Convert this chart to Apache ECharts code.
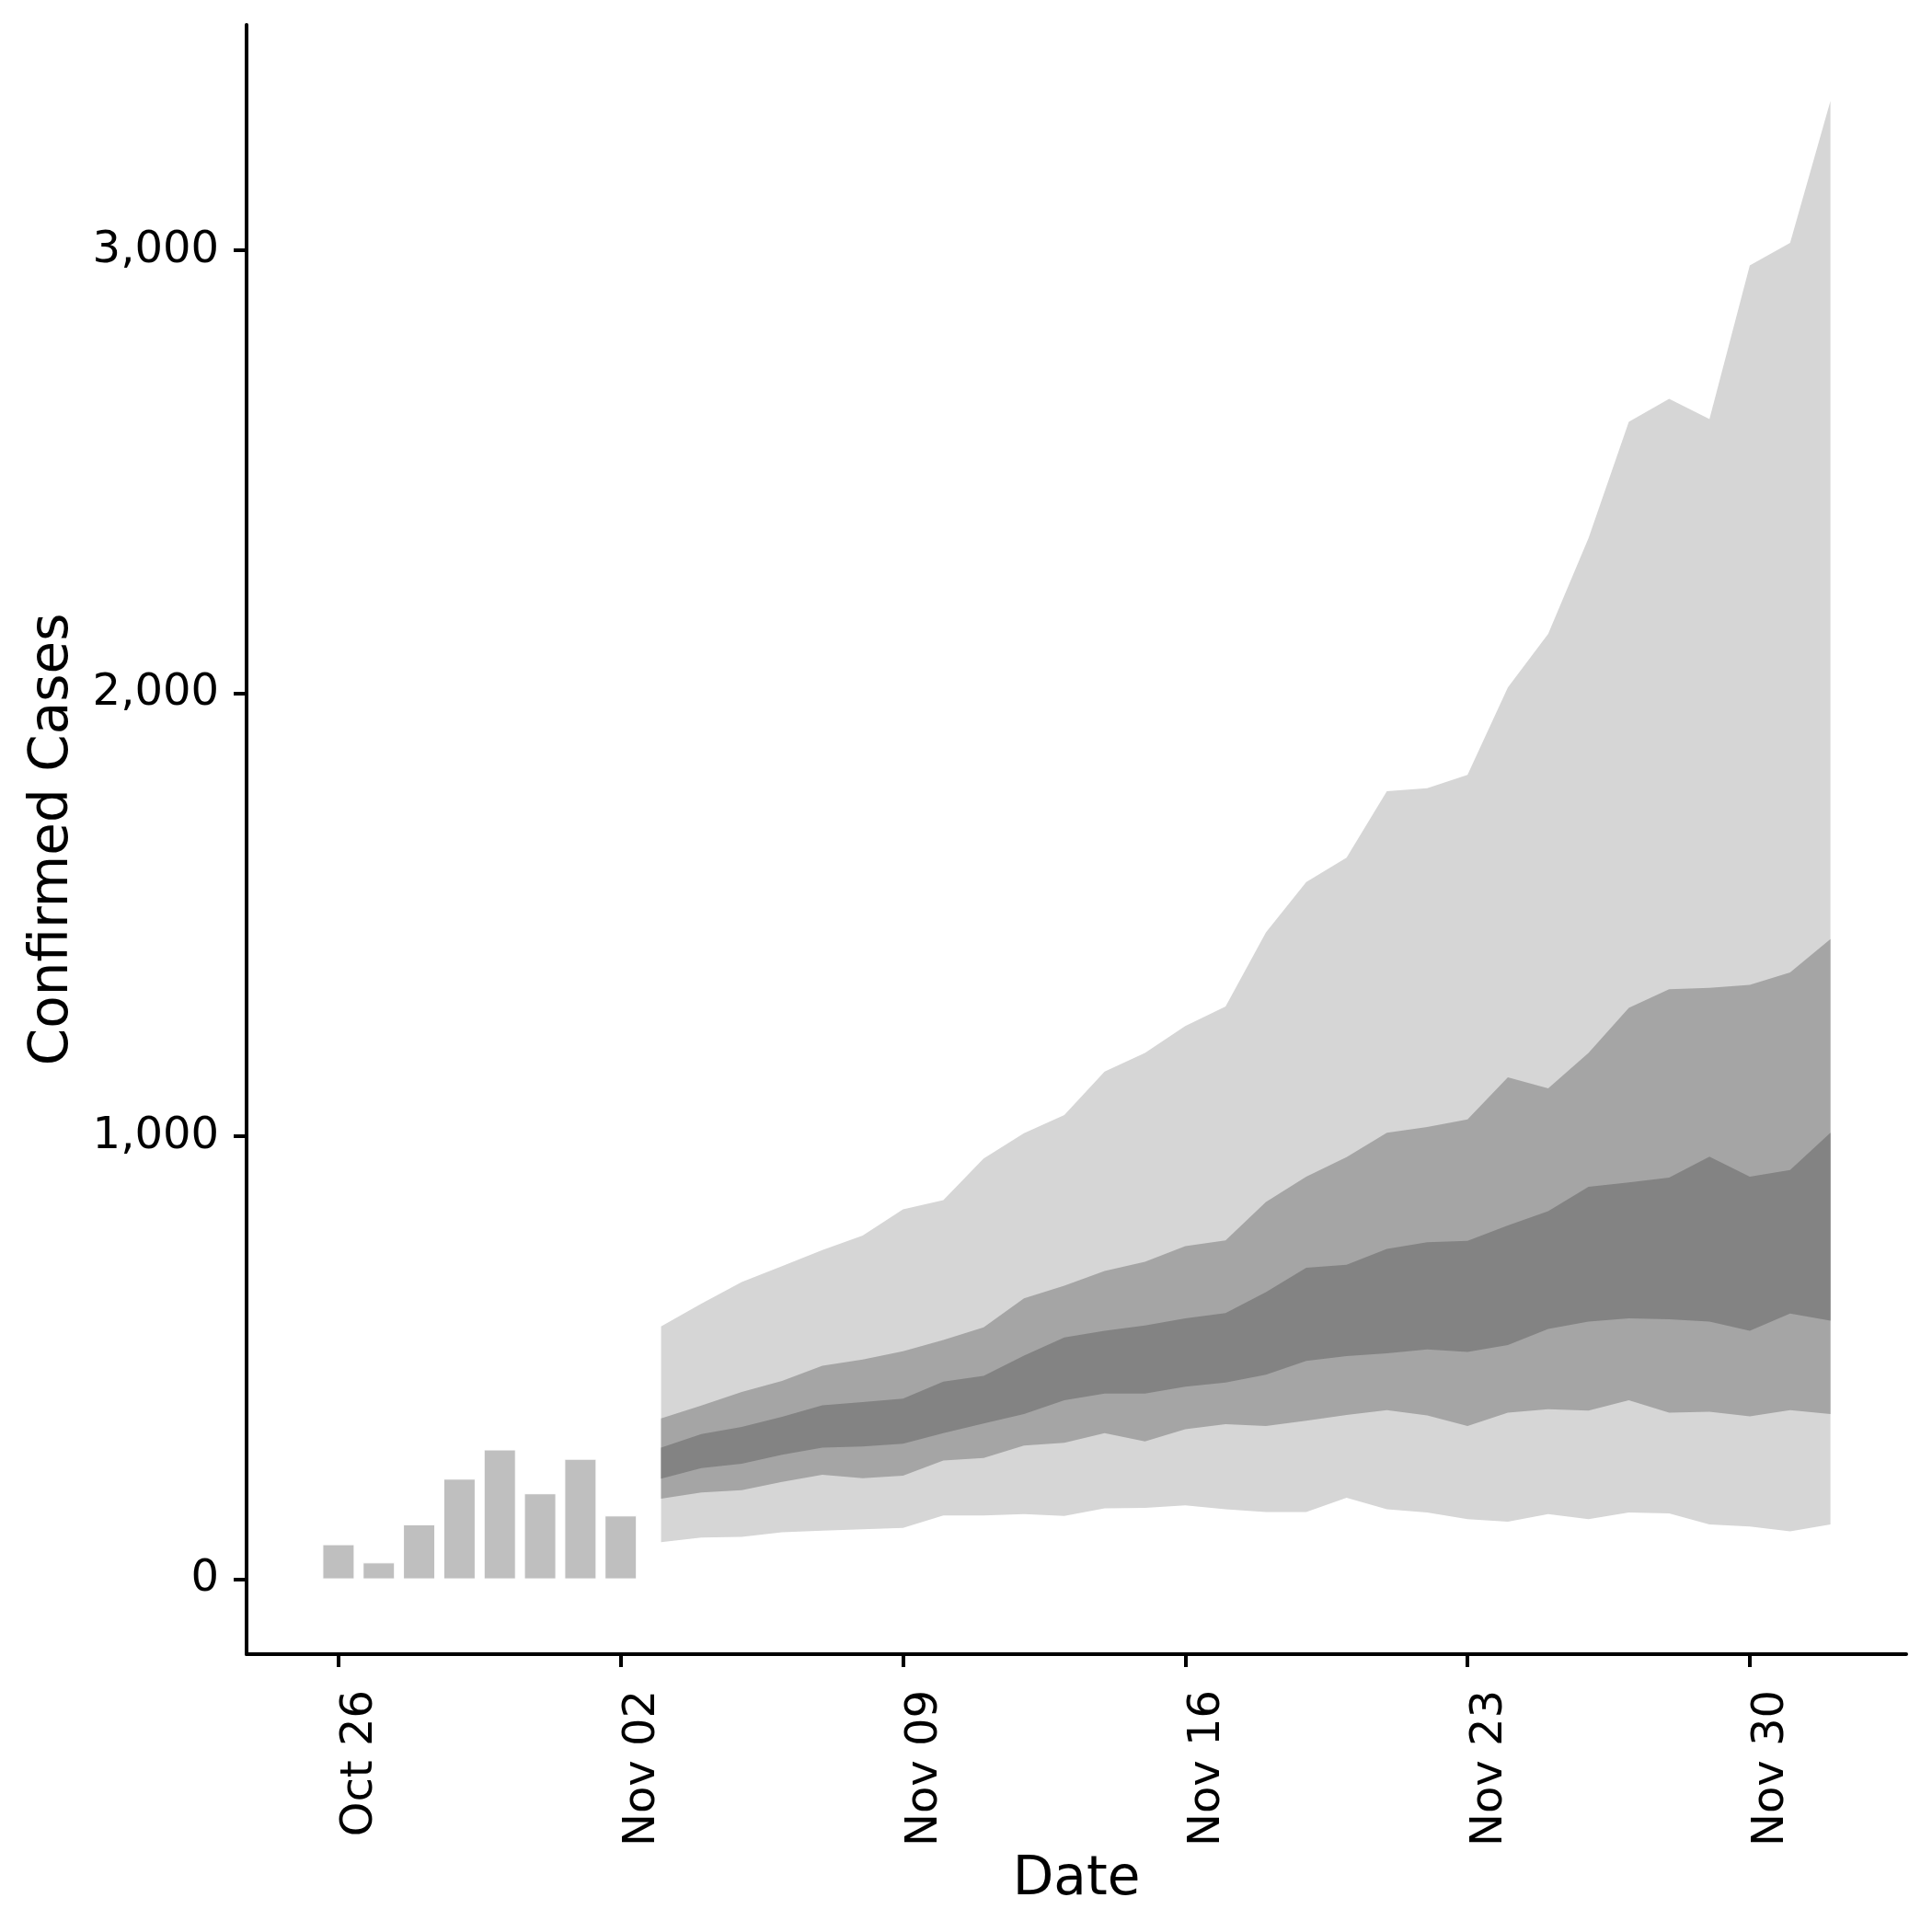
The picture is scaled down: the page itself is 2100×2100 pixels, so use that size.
<!DOCTYPE html>
<html>
<head>
<meta charset="utf-8">
<script src="https://cdn.jsdelivr.net/npm/echarts@6/dist/echarts.min.js"></script>
<style>
  html, body { margin: 0; padding: 0; background: #fff; }
  #chart { width: 2100px; height: 2100px; }
</style>
</head>
<body>
<div id="chart"></div>
<script>
// days counted from Oct 26
const tickDays = [0, 7, 14, 21, 28, 35]
const tickLabels = ['Oct 26', 'Nov 02', 'Nov 09', 'Nov 16', 'Nov 23', 'Nov 30']

// observed cases, Oct 26 .. Nov 02
const barDays = [0, 1, 2, 3, 4, 5, 6, 7]
const barValues = [79, 38, 124, 227, 293, 194, 272, 144]

// forecast days, Nov 03 .. Dec 02
const bandDays = [8, 9, 10, 11, 12, 13, 14, 15, 16, 17, 18, 19, 20, 21, 22,
  23, 24, 25, 26, 27, 28, 29, 30, 31, 32, 33, 34, 35, 36, 37]

// outer band (light)
const outerLow = [84, 94, 96, 106, 110, 113, 116, 144, 144, 147, 143, 160, 161, 167, 158,
  152, 152, 184, 158, 151, 136, 130, 147, 136, 151, 149, 124, 119, 108, 124]
const outerHigh = [571, 622, 671, 707, 743, 776, 835, 856, 950, 1007, 1048, 1146, 1188, 1249, 1293,
  1460, 1574, 1629, 1779, 1786, 1816, 2013, 2134, 2350, 2613, 2665, 2619, 2966, 3017, 3337]

// middle band (medium)
const midLow = [182, 196, 201, 220, 236, 228, 234, 268, 274, 302, 308, 330, 311, 339, 350,
  346, 358, 371, 382, 370, 346, 376, 384, 381, 404, 376, 378, 368, 382, 373]
const midHigh = [363, 392, 423, 448, 482, 496, 515, 540, 569, 634, 663, 696, 717, 752, 765,
  852, 909, 953, 1008, 1021, 1038, 1133, 1108, 1188, 1290, 1332, 1335, 1342, 1370, 1445]

// inner band (dark)
const innerLow = [227, 251, 261, 281, 297, 300, 306, 330, 352, 373, 404, 419, 419, 435, 444,
  462, 493, 504, 510, 519, 513, 529, 565, 582, 589, 587, 582, 561, 600, 584]
const innerHigh = [297, 328, 344, 367, 393, 400, 408, 446, 459, 505, 546, 561, 573, 589, 601,
  648, 703, 710, 746, 761, 764, 799, 831, 886, 896, 907, 954, 909, 924, 1008]

const yTicks = [0, 1000, 2000, 3000]

const font = 'DejaVu Sans'

//band as one polygon: along high, back along low
const makeBand = (name, low, high, color) => {
  return {
    name: name,
    type: 'custom',
    silent: true,
    data: bandDays.map((d, i) => [d, low[i], high[i]]),
    encode: { x: 0, y: [1, 2] },
    renderItem: (params, api) => {
      if (params.dataIndex !== 0) {
        return null
      }
      let points = []
      bandDays.forEach((d, i) => {
        points.push(api.coord([d, high[i]]))
      })
      for (let i = bandDays.length - 1; i >= 0; i--) {
        points.push(api.coord([bandDays[i], low[i]]))
      }
      return {
        type: 'polygon',
        shape: { points: points },
        style: { fill: color, stroke: null },
      }
    },
  }
}

const chart = echarts.init(document.getElementById('chart'), null, { renderer: 'canvas' })

chart.setOption({
  animation: false,
  backgroundColor: '#ffffff',
  grid: {
    left: 268,
    right: 28,
    top: 27,
    bottom: 302,
  },
  xAxis: {
    type: 'value',
    min: -2.28,
    max: 38.88,
    name: 'Date',
    nameLocation: 'middle',
    nameGap: 217,
    nameTextStyle: { fontFamily: font, fontSize: 58, color: '#000' },
    axisLine: { onZero: false, lineStyle: { color: '#000', width: 4 } },
    axisTick: {
      customValues: tickDays,
      length: 14,
      lineStyle: { color: '#000', width: 4 },
    },
    axisLabel: {
      customValues: tickDays,
      rotate: 90,
      margin: 39,
      verticalAlign: 'top',
      fontFamily: font,
      fontSize: 48,
      color: '#000',
      formatter: (v) => tickLabels[tickDays.indexOf(v)] || '',
    },
    splitLine: { show: false },
  },
  yAxis: {
    type: 'value',
    min: -169,
    max: 3509,
    name: 'Confirmed Cases',
    nameLocation: 'middle',
    nameGap: 181,
    nameTextStyle: { fontFamily: font, fontSize: 58, color: '#000' },
    axisLine: { show: true, onZero: false, lineStyle: { color: '#000', width: 4 } },
    axisTick: {
      show: true,
      customValues: yTicks,
      length: 14,
      lineStyle: { color: '#000', width: 4 },
    },
    axisLabel: {
      customValues: yTicks,
      margin: 30,
      fontFamily: font,
      fontSize: 48,
      color: '#000',
      formatter: (v) => v.toLocaleString('en-US'),
    },
    splitLine: { show: false },
  },
  series: [
    {
      name: 'observed',
      type: 'bar',
      data: barDays.map((d, i) => [d, barValues[i]]),
      barWidth: 35,
      itemStyle: { color: '#bfbfbf', borderColor: '#ffffff', borderWidth: 1 },
      silent: true,
    },
    makeBand('outer', outerLow, outerHigh, '#d6d6d6'),
    makeBand('mid', midLow, midHigh, '#a5a5a5'),
    makeBand('inner', innerLow, innerHigh, '#838383'),
  ],
})
</script>
</body>
</html>
